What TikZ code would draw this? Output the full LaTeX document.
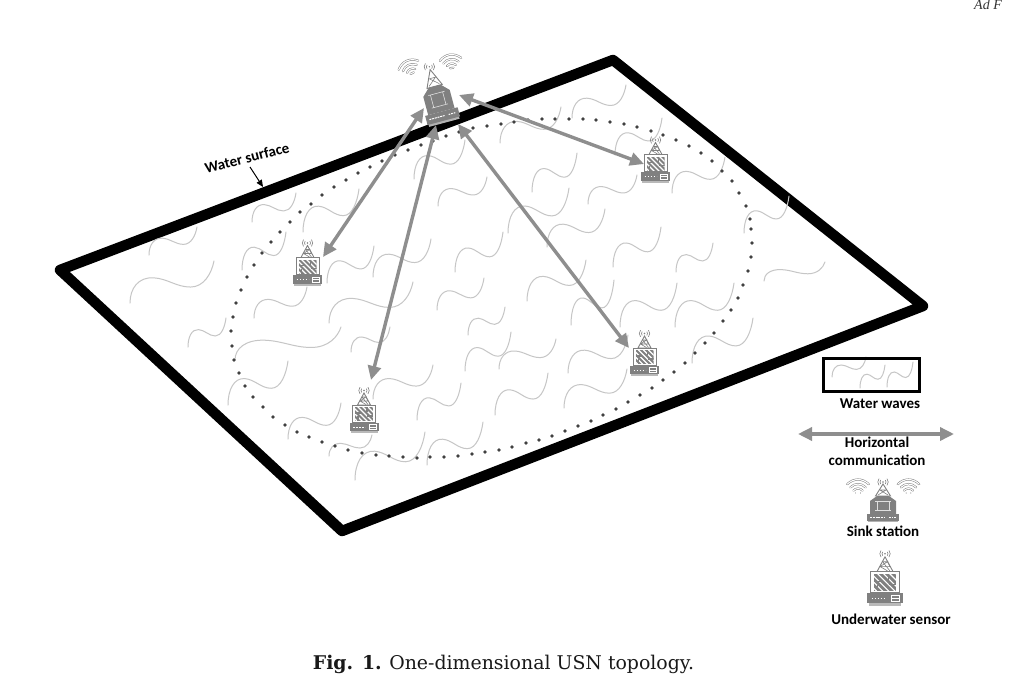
\documentclass[tikz,border=0pt]{standalone}
\usepackage{fontspec}
\setmainfont{Carlito}
\newfontfamily\capfont{DejaVu Serif}
\newfontfamily\hdrfont{Liberation Serif}
\usetikzlibrary{arrows.meta}
\definecolor{wavec}{HTML}{C6C6C6}
\definecolor{arrowc}{HTML}{8E8E8E}
\definecolor{iconc}{HTML}{808080}
\definecolor{dotc}{HTML}{404040}
\tikzset{
  framebox/.style={draw=black,line width=10.5pt,line join=round,line cap=round},
  seawave/.style={draw=wavec,line width=1pt,line cap=round},
  linkarrow/.style={draw=arrowc,line width=3.4pt,{Triangle[length=14pt,width=13pt]}-{Triangle[length=14pt,width=13pt]}},
  label/.style={font=\bfseries\fontsize{15}{18}\selectfont,text=black,inner sep=0pt,align=center},
  anchorbox/.style={inner sep=0pt,minimum width=#1,minimum height=46pt},
  iconline/.style={draw=iconc,line width=.9pt},
  fanline/.style={draw=iconc,line width=.5pt,double=white,double distance=1.1pt,line cap=round},
  pics/radio/.style={code={
    \foreach \r in {3,5.2}{
      \draw[iconline,line width=.6pt] (0,0) ++(140:\r) arc[start angle=140,end angle=220,radius=\r];
      \draw[iconline,line width=.6pt] (0,0) ++(40:\r) arc[start angle=40,end angle=-40,radius=\r];
    }
    \fill[iconc] (0,0) circle (.8);
  }},
  pics/sensoricon/.style={code={
    \pic at (0,-21.5) {radio};
    % tower
    \draw[iconline] (0,-19) -- (-6.5,-7) -- (6.5,-7) -- cycle;
    \draw[iconline,line width=.6pt] (-2,-15) -- (2,-15) -- (-4,-11) -- (4,-11) -- (2,-15) (-2,-15) -- (4,-7.5) (-4,-11) -- (2,-7.5);
    % monitor
    \fill[white] (-11.5,-7) rectangle (11.5,10);
    \draw[iconline,line width=1pt] (-11.5,-7) rectangle (11.5,10);
    \begin{scope}
      \clip (-9,-5) rectangle (9,9);
      \fill[iconc] (-9,-5) rectangle (9,9);
      \foreach \d in {-14,-9,-4,1,6,11,16}
        \draw[white,line width=1.1pt] (\d-8,-6) -- (\d+8,10);
      \draw[iconc,line width=1.2pt] (-9,1) -- (-3,1) (3,4) -- (9,4) (-6,9) -- (-6,4) (3,-5) -- (3,0);
    \end{scope}
    % base
    \fill[iconc!55] (-13.5,18) rectangle (13.5,21);
    \fill[iconc] (-14.5,10.5) rectangle (14.5,19);
    \draw[white,line width=1pt,dash pattern=on 1.6pt off 1.4pt] (-11,15) -- (1,15);
    \draw[white,line width=.7pt] (5,12.5) rectangle (12,17.5) (5,15) -- (12,15);
  }},
  pics/sinkicon/.style={code={
    \pic at (0,-23) {radio};
    \draw[iconline] (0,-21) -- (-7.5,-9) -- (7.5,-9) -- cycle;
    \draw[iconline,line width=.6pt] (-3,-15) -- (3,-15) -- (-5,-10) (-3,-15) -- (5,-10);
    \fill[iconc] (-13,-4) -- (-6,-9) -- (6,-9) -- (13,-4) -- (13,9) -- (-13,9) -- cycle;
    \draw[white!75!iconc,line width=.6pt] (-6,-4) -- (6,-4) -- (6,5) -- (-6,5) -- cycle
      (-8,-4) -- (-6,-4) (6,-4) -- (8,-4) (-8,5) -- (-6,5) (6,5) -- (8,5);
    \fill[iconc!60] (-15,15) rectangle (15,17);
    \fill[iconc] (-16,9) rectangle (16,15.5);
    \draw[white,line width=1pt,dash pattern=on 2pt off .8pt] (-13,12.2) -- (2,12.2);
    \draw[white,line width=1pt,dash pattern=on 1.6pt off 1pt] (6,12.2) -- (13,12.2);
  }},
  pics/fan/.style={code={
    \foreach \r in {5,8.5,12}
      \draw[fanline] (-\r*.62,-\r*.62) .. controls (-\r*.25,-\r*.98) and (\r*.25,-\r*.98) .. (\r*.62,-\r*.62);
    \draw[fanline] (-1.2,-1.4) -- (1.2,-1.4);
  }}
}
\begin{document}
\begin{tikzpicture}[x=1pt,y=-1pt]
\useasboundingbox (0,0) rectangle (1009,677);
\fill[white] (0,0) rectangle (1009,677);
% Frame
\draw[framebox] (60,270) -- (613,60) -- (923,306) -- (342,531) -- cycle;
% Waves
\foreach \xa/\ya/\xb/\yb in {
149/255/197/227, 252/222/296/193, 303/232/359/189, 130/303/214/261, 242/270/286/232,
327/283/374/246, 373/277/431/239, 254/318/307/287, 329/323/413/282, 188/347/226/318,
235/360/341/327, 228/405/288/361, 351/352/390/327, 373/399/433/365, 288/439/341/403,
329/456/372/435, 355/480/425/432, 427/465/483/422, 417/420/461/383, 465/371/511/332,
468/335/505/307, 495/415/548/373, 499/369/556/339, 527/301/586/260, 571/325/614/280,
568/373/628/335, 564/408/627/369, 620/327/677/283, 675/327/734/283, 692/363/753/318,
764/281/825/262, 572/118/626/85, 532/192/577/153, 588/204/637/175, 508/233/569/188,
547/247/605/209, 613/267/661/227, 676/272/713/243, 615/155/662/118, 672/193/725/157,
744/233/789/196, 500/143/561/107, 414/179/465/140, 438/206/487/177, 455/272/503/232,
437/310/484/278, 832/377/866/357, 860/388/885/365, 887/387/913/362}
{
  \pgfmathsetmacro\wvw{\xb-\xa}
  \pgfmathsetmacro\wvh{\ya-\yb}
  \begin{scope}[shift={(\xa,\ya)},xscale=\wvw,yscale=-\wvh]
    \draw[seawave] (0,0) .. controls (0,.35) and (.1,.62) .. (.28,.6)
       .. controls (.45,.58) and (.55,.38) .. (.72,.38)
       .. controls (.88,.38) and (.97,.7) .. (1,1);
  \end{scope}
}
% Dotted boundary of the sensor field
\foreach \dx/\dy in {
433/141,421/145,408/150,395/155,382/161,370/167,358/173,346/180,334/187,322/195,311/204,300/212,
290/222,280/232,271/242,262/253,254/265,247/277,241/290,236/303,233/317,231/331,232/346,234/360,
239/373,245/386,253/397,263/407,273/417,285/425,297/432,309/437,322/442,335/446,348/450,362/453,
376/455,389/456,403/457,417/458,430/457,444/457,458/456,472/454,485/452,499/450,512/447,526/443,
539/440,552/436,565/431,578/426,591/421,603/415,616/409,628/402,640/395,652/388,663/380,674/372,
685/363,695/353,705/343,714/333,723/321,731/310,738/298,743/285,748/271,751/257,752/243,751/229,
750/219,746/206,739/193,732/181,722/171,712/161,701/153,689/146,676/140,663/135,651/131,637/127,
624/124,610/122,596/120,583/119,569/119,555/119,542/119,528/120,514/122,501/124,487/126,473/128,
459/132,446/136}
  \fill[dotc] (\dx,\dy) circle (1.9);
% Icons
\node[anchorbox=30pt] (sink) at (438,99) {};
\node[anchorbox=30pt] (s1) at (307.5,264.5) {};
\node[anchorbox=30pt] (s2) at (364,412) {};
\node[anchorbox=30pt] (s3) at (655.5,161.5) {};
\node[anchorbox=30pt] (s4) at (644.5,355) {};
\pic[rotate=15,xscale=1.05,yscale=1.45] at (438,99) {sinkicon};
\pic at (307.5,264.5) {sensoricon};
\pic at (364,412) {sensoricon};
\pic at (655.5,161.5) {sensoricon};
\pic at (644.5,355) {sensoricon};
\pic[rotate=25,scale=1.45] at (413,75) {fan};
\pic[rotate=8,scale=1.45] at (452,70) {fan};
% Arrows
\coordinate (sinkA) at (424,108);
\coordinate (sinkB) at (436,125);
\coordinate (sinkC) at (458,124);
\coordinate (sinkD) at (459,95);
\coordinate (tipA) at (323,257);
\coordinate (tipB) at (371,380);
\coordinate (tipC) at (629,348);
\coordinate (tipD) at (644,164);
\draw[linkarrow] (sinkA) -- (tipA);
\draw[linkarrow] (sinkB) -- (tipB);
\draw[linkarrow] (sinkC) -- (tipC);
\draw[linkarrow] (sinkD) -- (tipD);
% Water surface label
\node[label,rotate=14.5] (surf) at (247,158) {Water surface};
\coordinate (surfStart) at (250,167);
\coordinate (surfTip) at (263,187);
\draw[black,line width=1pt,-{Triangle[length=7pt,width=6pt]}] (surfStart) -- (surfTip);
% Legend
\node[draw=black,line width=3pt,minimum width=96pt,minimum height=33pt,inner sep=0pt] (lgbox) at (871.5,375) {};
\node[label] (lgwaves) at (880,404) {Water waves};
\coordinate (lgL) at (798,434);
\coordinate (lgR) at (954,434);
\draw[linkarrow] (lgL) -- (lgR);
\node[label] (lghor) at (877,442) {Horizontal};
\node[label] (lgcom) at (877,460) {communication};
\pic at (883,505) {sinkicon};
\pic[scale=1.45] at (858,495) {fan};
\pic[scale=1.45] at (908.5,495) {fan};
\node[label] (lgsink) at (883,531) {Sink station};
\pic[scale=1.22] at (885,580) {sensoricon};
\node[label] (lgsens) at (891,619) {Underwater sensor};
% Caption and running head
\node[inner sep=0pt,anchor=base,font=\capfont\fontsize{18.9}{22}\selectfont,text=black!90] (cap) at (503.5,669) {\textbf{Fig. 1.}\hspace{.4em}One-dimensional USN topology.};
\node[inner sep=0pt,anchor=base west,font=\hdrfont\itshape\fontsize{14}{17}\selectfont,text=black!80] (hdr) at (974,10) {Ad F};
\end{tikzpicture}
\end{document}
